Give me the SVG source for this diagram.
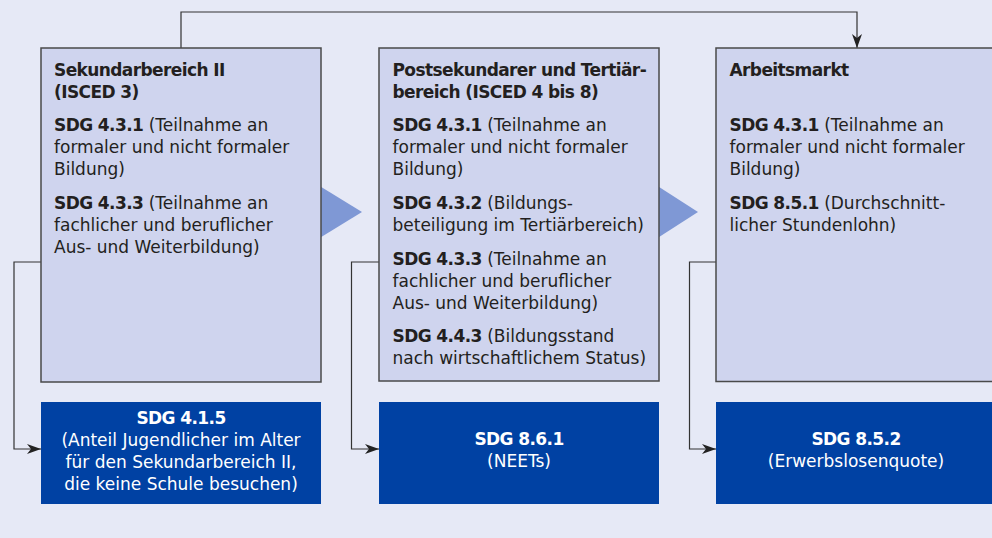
<svg xmlns="http://www.w3.org/2000/svg" width="992" height="538" viewBox="0 0 992 538">
<defs>
<style>
text{font-family:"DejaVu Sans","Liberation Sans",sans-serif;font-size:17px;fill:#231f20}
.b{font-weight:bold;letter-spacing:-0.6px}
.w{fill:#ffffff}
.stage{fill:#cfd4ee;stroke:#4a4a4a;stroke-width:1.5}
.sdg{fill:#0041a3}
.tri{fill:#7f98d5}
.con{fill:none;stroke:#333333;stroke-width:1.2}
</style>
<marker id="ah" viewBox="0 0 14 10" refX="14" refY="5" markerWidth="14" markerHeight="10" markerUnits="userSpaceOnUse" orient="auto">
<path d="M0,0 L14,5 L0,10 L4,5 Z" fill="#222222"/>
</marker>
</defs>
<rect x="0" y="0" width="992" height="538" fill="#e6e9f6"/>

<g id="arrows-flow">
<polygon class="tri" points="318,185 362,212 318,239"/>
<polygon class="tri" points="656,185 698,212 656,239"/>
</g>

<g id="connectors">
<path class="con" d="M181,48 V12 H857 V48" marker-end="url(#ah)"/>
<path class="con" d="M41,262 H14 V449 H41" marker-end="url(#ah)"/>
<path class="con" d="M379,262 H351.5 V449 H379" marker-end="url(#ah)"/>
<path class="con" d="M716,262 H689.5 V449 H716" marker-end="url(#ah)"/>
</g>

<g id="sekundarbereich">
<rect class="stage" x="41" y="48" width="280" height="334"/>
<text x="54" y="75.5" class="b">Sekundarbereich II</text>
<text x="54" y="97.5" class="b">(ISCED 3)</text>
<text x="54" y="131"><tspan class="b">SDG 4.3.1</tspan> (Teilnahme an</text>
<text x="54" y="153">formaler und nicht formaler</text>
<text x="54" y="175">Bildung)</text>
<text x="54" y="209"><tspan class="b">SDG 4.3.3</tspan> (Teilnahme an</text>
<text x="54" y="231">fachlicher und beruflicher</text>
<text x="54" y="253">Aus- und Weiterbildung)</text>
</g>

<g id="tertiaer">
<rect class="stage" x="379" y="48" width="280" height="333"/>
<text x="392.5" y="75.5" class="b">Postsekundarer und Tertiär-</text>
<text x="392.5" y="97.5" class="b">bereich (ISCED 4 bis 8)</text>
<text x="392.5" y="131"><tspan class="b">SDG 4.3.1</tspan> (Teilnahme an</text>
<text x="392.5" y="153">formaler und nicht formaler</text>
<text x="392.5" y="175">Bildung)</text>
<text x="392.5" y="209"><tspan class="b">SDG 4.3.2</tspan> (Bildungs-</text>
<text x="392.5" y="231">beteiligung im Tertiärbereich)</text>
<text x="392.5" y="264.5"><tspan class="b">SDG 4.3.3</tspan> (Teilnahme an</text>
<text x="392.5" y="286.5">fachlicher und beruflicher</text>
<text x="392.5" y="308.5">Aus- und Weiterbildung)</text>
<text x="392.5" y="342"><tspan class="b">SDG 4.4.3</tspan> (Bildungsstand</text>
<text x="392.5" y="364">nach wirtschaftlichem Status)</text>
</g>

<g id="arbeitsmarkt">
<rect class="stage" x="716" y="48" width="280" height="333.5"/>
<text x="729.5" y="75.5" class="b">Arbeitsmarkt</text>
<text x="729.5" y="131"><tspan class="b">SDG 4.3.1</tspan> (Teilnahme an</text>
<text x="729.5" y="153">formaler und nicht formaler</text>
<text x="729.5" y="175">Bildung)</text>
<text x="729.5" y="209"><tspan class="b">SDG 8.5.1</tspan> (Durchschnitt-</text>
<text x="729.5" y="231">licher Stundenlohn)</text>
</g>

<g id="sdg415">
<rect class="sdg" x="41" y="402" width="280" height="102"/>
<text x="181" y="423.5" text-anchor="middle" class="b w">SDG 4.1.5</text>
<text x="181" y="446" text-anchor="middle" class="w">(Anteil Jugendlicher im Alter</text>
<text x="181" y="468" text-anchor="middle" class="w">für den Sekundarbereich II,</text>
<text x="181" y="490" text-anchor="middle" class="w">die keine Schule besuchen)</text>
</g>

<g id="sdg861">
<rect class="sdg" x="379" y="402" width="280" height="102"/>
<text x="519" y="444.5" text-anchor="middle" class="b w">SDG 8.6.1</text>
<text x="519" y="466.5" text-anchor="middle" class="w">(NEETs)</text>
</g>

<g id="sdg852">
<rect class="sdg" x="716" y="402" width="280" height="102"/>
<text x="856" y="444.5" text-anchor="middle" class="b w">SDG 8.5.2</text>
<text x="856" y="466.5" text-anchor="middle" class="w">(Erwerbslosenquote)</text>
</g>
</svg>
